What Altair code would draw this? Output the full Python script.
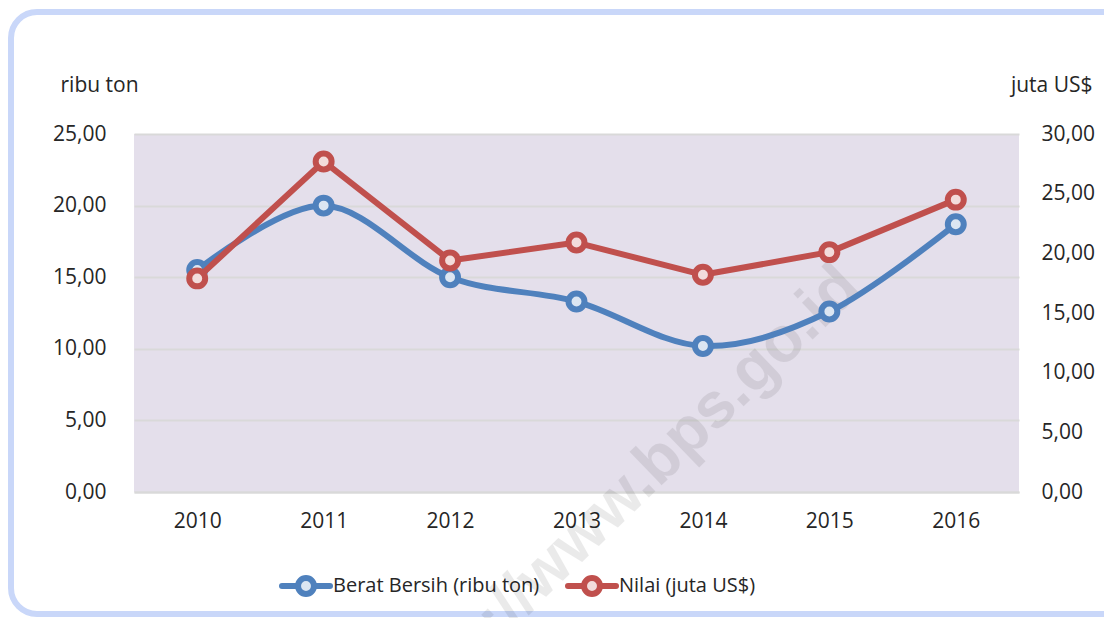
import altair as alt
import pandas as pd

# ---- data ----
years = ["2010", "2011", "2012", "2013", "2014", "2015", "2016"]
berat = [15.5, 20.0, 15.0, 13.3, 10.2, 12.6, 18.7]      # ribu ton (left axis)
nilai = [17.9, 27.7, 19.4, 20.9, 18.2, 20.1, 24.5]      # juta US$ (right axis)
series = ["Berat Bersih (ribu ton)", "Nilai (juta US$)"]
left_ticks = [0, 5, 10, 15, 20, 25]
right_ticks = [0, 5, 10, 15, 20, 25, 30]
watermark = "http://www.bps.go.id"

df = pd.DataFrame({"Tahun": years, "Berat": berat, "Nilai": nilai})
one = pd.DataFrame({"k": [0]})

FONT = "Open Sans"
TXT = "#262626"
BLUE = "#4f81bd"
RED = "#c0504d"
BLUE_IN = "#dce6f2"
RED_IN = "#f2dcdb"
GRID = "#d9d9d9"
LBL = "replace(format(datum.value, '.2f'), '.', ',')"

x_enc = alt.X(
    "Tahun:N", title=None,
    axis=alt.Axis(labelAngle=0, labelFont=FONT, labelFontSize=21, labelColor=TXT,
                  ticks=False, tickSize=0, labelPadding=29, labelBaseline="middle",
                  domainColor=GRID, domainWidth=2, grid=False),
)

y_left = alt.Y(
    "Berat:Q", scale=alt.Scale(domain=[0, 25], nice=False, zero=True),
    axis=alt.Axis(values=left_ticks, labelExpr=LBL, title="ribu ton",
                  titleAngle=0, titleX=-74, titleY=-49, titleAlign="left",
                  titleBaseline="middle", titleFont=FONT, titleFontSize=21,
                  titleFontWeight="normal", titleColor=TXT,
                  labelFont=FONT, labelFontSize=21, labelColor=TXT, labelPadding=28,
                  ticks=False, tickSize=0, domain=False, grid=True,
                  gridColor=GRID, gridWidth=2),
)

y_right = alt.Y(
    "Nilai:Q", scale=alt.Scale(domain=[0, 30], nice=False, zero=True),
    axis=alt.Axis(orient="right", values=right_ticks, labelExpr=LBL, title="juta US$",
                  titleAngle=0, titleX=73, titleY=-49, titleAlign="right",
                  titleBaseline="middle", titleFont=FONT, titleFontSize=21,
                  titleFontWeight="normal", titleColor=TXT,
                  labelFont=FONT, labelFontSize=21, labelColor=TXT, labelPadding=22,
                  labelAlign="left", ticks=False, tickSize=0, domain=False, grid=False),
)

PT_SIZE = 254

blue = alt.layer(
    alt.Chart(df).mark_line(color=BLUE, strokeWidth=6, interpolate="cardinal",
                            strokeCap="round").encode(x=x_enc, y=y_left),
    alt.Chart(df).mark_point(shape="circle", filled=True, fill=BLUE_IN, stroke=BLUE,
                             strokeWidth=6, size=PT_SIZE, opacity=1).encode(x=x_enc, y=y_left),
)

red = alt.layer(
    alt.Chart(df).mark_line(color=RED, strokeWidth=6, strokeCap="round",
                            strokeJoin="round").encode(x=x_enc, y=y_right),
    alt.Chart(df).mark_point(shape="circle", filled=True, fill=RED_IN, stroke=RED,
                             strokeWidth=6, size=PT_SIZE, opacity=1).encode(x=x_enc, y=y_right),
)

# outer rounded frame
frame = alt.Chart(one).mark_rect(
    fill="white", fillOpacity=0, stroke="#c9d7f9", strokeWidth=6, cornerRadius=26
).encode(x=alt.value(-123), x2=alt.value(995), y=alt.value(-122), y2=alt.value(480))

# watermark
wm = alt.Chart(one).mark_text(
    text=watermark, font="Liberation Sans", fontWeight="bold", fontSize=64,
    color="#000000", opacity=0.08, angle=316, align="right", baseline="middle"
).encode(x=alt.value(716), y=alt.value(143))

# manual legend
def legend_item(x0, color, inner, label):
    line = alt.Chart(one).mark_rule(color=color, strokeWidth=6, strokeCap="round").encode(
        x=alt.value(x0), x2=alt.value(x0 + 48), y=alt.value(452))
    dot = alt.Chart(one).mark_point(shape="circle", filled=True, fill=inner, stroke=color,
                                    strokeWidth=6, size=PT_SIZE, opacity=1).encode(
        x=alt.value(x0 + 24), y=alt.value(452))
    txt = alt.Chart(one).mark_text(text=label, font=FONT, fontSize=20, color=TXT,
                                   align="left", baseline="middle").encode(
        x=alt.value(x0 + 51), y=alt.value(452))
    return [line, dot, txt]

legend_layers = legend_item(148, BLUE, BLUE_IN, series[0]) + legend_item(434, RED, RED_IN, series[1])

chart = alt.layer(
    frame, wm, blue, red, *legend_layers
).resolve_scale(y="independent").properties(
    width=885, height=358,
    padding={"left": 126, "top": 126, "right": 85, "bottom": 126},
    autosize=alt.AutoSizeParams(type="none"),
    background="white",
).configure_view(fill="#e4dfeb", stroke=None)

chart.save("out.html", embed_options={"renderer": "svg", "actions": False})
